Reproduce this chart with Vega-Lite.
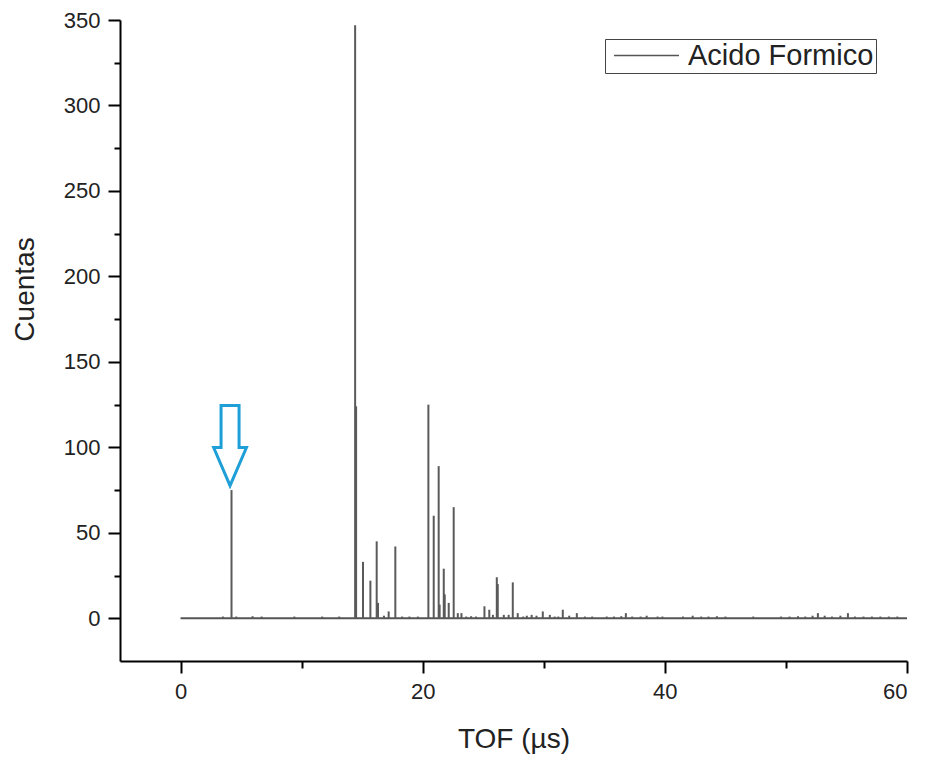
{
  "$schema": "https://vega.github.io/schema/vega-lite/v6.json",
  "width": 787,
  "height": 641,
  "autosize": "none",
  "padding": {"left": 120, "top": 20, "right": 20, "bottom": 96},
  "background": "white",
  "config": {
    "view": {"stroke": null},
    "font": "Liberation Sans",
    "axis": {
      "domainColor": "#000",
      "domainWidth": 2,
      "tickColor": "#000",
      "tickWidth": 2,
      "grid": false,
      "labelFont": "Liberation Sans",
      "labelFontSize": 22,
      "labelColor": "#222",
      "titleFont": "Liberation Sans",
      "titleFontSize": 28,
      "titleFontWeight": "normal",
      "titleColor": "#222"
    }
  },
  "datasets": {
    "peaks": [
      {"tof": 3.5, "counts": 1}, {"tof": 4.21, "counts": 75}, {"tof": 4.6, "counts": 1}, {"tof": 5.95, "counts": 1.2}, {"tof": 6.7, "counts": 1},
      {"tof": 9.4, "counts": 1}, {"tof": 11.7, "counts": 1}, {"tof": 13.1, "counts": 1},
      {"tof": 14.42, "counts": 347}, {"tof": 14.5, "counts": 124}, {"tof": 15.07, "counts": 33}, {"tof": 15.68, "counts": 22},
      {"tof": 16.2, "counts": 45}, {"tof": 16.31, "counts": 9}, {"tof": 16.8, "counts": 1.5}, {"tof": 17.19, "counts": 4}, {"tof": 17.74, "counts": 42},
      {"tof": 18.3, "counts": 1}, {"tof": 18.9, "counts": 1}, {"tof": 19.6, "counts": 1},
      {"tof": 20.47, "counts": 125}, {"tof": 20.91, "counts": 60}, {"tof": 21.32, "counts": 89}, {"tof": 21.4, "counts": 8},
      {"tof": 21.74, "counts": 29}, {"tof": 21.82, "counts": 14}, {"tof": 22.15, "counts": 9}, {"tof": 22.56, "counts": 65},
      {"tof": 22.9, "counts": 3}, {"tof": 23.2, "counts": 3}, {"tof": 23.6, "counts": 1}, {"tof": 24.0, "counts": 1.2}, {"tof": 24.4, "counts": 1},
      {"tof": 25.1, "counts": 7}, {"tof": 25.5, "counts": 5}, {"tof": 25.8, "counts": 2}, {"tof": 26.12, "counts": 24}, {"tof": 26.2, "counts": 20},
      {"tof": 26.7, "counts": 2}, {"tof": 27.1, "counts": 2}, {"tof": 27.44, "counts": 21}, {"tof": 27.85, "counts": 3},
      {"tof": 28.3, "counts": 1}, {"tof": 28.6, "counts": 1.5}, {"tof": 29.0, "counts": 2}, {"tof": 29.4, "counts": 1.5},
      {"tof": 29.92, "counts": 4}, {"tof": 30.5, "counts": 2}, {"tof": 30.9, "counts": 1}, {"tof": 31.2, "counts": 1},
      {"tof": 31.57, "counts": 5}, {"tof": 32.1, "counts": 1.5}, {"tof": 32.73, "counts": 3}, {"tof": 33.4, "counts": 1},
      {"tof": 34.0, "counts": 1}, {"tof": 35.2, "counts": 1}, {"tof": 35.8, "counts": 1}, {"tof": 36.4, "counts": 1.2},
      {"tof": 36.78, "counts": 3}, {"tof": 37.3, "counts": 1}, {"tof": 38.0, "counts": 1}, {"tof": 38.5, "counts": 1.5},
      {"tof": 39.4, "counts": 1}, {"tof": 39.8, "counts": 1}, {"tof": 41.5, "counts": 1}, {"tof": 42.3, "counts": 1.5},
      {"tof": 43.0, "counts": 1}, {"tof": 43.6, "counts": 1}, {"tof": 44.3, "counts": 1.2}, {"tof": 45.0, "counts": 1},
      {"tof": 47.3, "counts": 1}, {"tof": 49.6, "counts": 1}, {"tof": 50.3, "counts": 1}, {"tof": 51.0, "counts": 1.2},
      {"tof": 51.6, "counts": 1}, {"tof": 52.2, "counts": 1.5}, {"tof": 52.64, "counts": 3}, {"tof": 53.2, "counts": 1.5},
      {"tof": 53.8, "counts": 1}, {"tof": 54.5, "counts": 1.5}, {"tof": 55.12, "counts": 3}, {"tof": 55.7, "counts": 1},
      {"tof": 56.4, "counts": 1}, {"tof": 57.1, "counts": 1}, {"tof": 57.8, "counts": 1}, {"tof": 58.5, "counts": 1}, {"tof": 59.2, "counts": 1}
    ],
    "baseline": [
      {"tof": 0, "counts": 0, "series": "Acido Formico"},
      {"tof": 60, "counts": 0, "series": "Acido Formico"}
    ],
    "arrow": [
      {"tof": 4.09, "counts": 101}
    ]
  },
  "layer": [
    {
      "data": {"name": "baseline"},
      "mark": {"type": "line", "strokeWidth": 2.2},
      "encoding": {
        "x": {
          "field": "tof", "type": "quantitative",
          "scale": {"domain": [-5, 60], "nice": false, "zero": false},
          "axis": {
            "title": "TOF (µs)",
            "values": [0, 10, 20, 30, 40, 50, 60],
            "tickSize": {"condition": {"test": "datum.value % 20 === 0", "value": 12}, "value": 7},
            "labelExpr": "datum.value % 20 === 0 ? datum.label : ''",
            "labelPadding": 8,
            "titleBaseline": "alphabetic",
            "titleY": 86,
            "titleX": 393.5,
            "titleAlign": "center"
          }
        },
        "y": {
          "field": "counts", "type": "quantitative",
          "scale": {"domain": [-25, 350], "nice": false, "zero": false},
          "axis": {
            "title": "Cuentas",
            "values": [0, 25, 50, 75, 100, 125, 150, 175, 200, 225, 250, 275, 300, 325, 350],
            "tickSize": {"condition": {"test": "datum.value % 50 === 0", "value": 12}, "value": 6},
            "labelExpr": "datum.value % 50 === 0 ? datum.label : ''",
            "labelPadding": 8,
            "labelBaseline": "middle",
            "titleAngle": 270,
            "titleBaseline": "alphabetic",
            "titleAlign": "center",
            "titleX": -87,
            "titleY": 269
          }
        },
        "color": {
          "field": "series", "type": "nominal",
          "scale": {"range": ["#555555"]},
          "legend": {
            "title": null,
            "orient": "none",
            "legendX": 485,
            "legendY": 19,
            "symbolType": "M-3,0 L3,0",
            "symbolSize": 469,
            "symbolStrokeWidth": 1.5,
            "symbolFillColor": "transparent",
            "labelFont": "Liberation Sans",
            "labelFontSize": 29,
            "labelColor": "#222",
            "labelLimit": 400,
            "labelOffset": 27,
            "strokeColor": "#444",
            "padding": 2,
            "symbolOffset": 25
          }
        }
      }
    },
    {
      "data": {"name": "peaks"},
      "mark": {"type": "rule", "color": "#5a5a5a", "strokeWidth": 2},
      "encoding": {
        "x": {"field": "tof", "type": "quantitative"},
        "y": {"field": "counts", "type": "quantitative"},
        "y2": {"datum": 0}
      }
    },
    {
      "data": {"name": "arrow"},
      "mark": {
        "type": "point",
        "shape": "M-0.225,-1 L0.225,-1 L0.225,0.05 L0.41,0.05 L0,1 L-0.41,0.05 L-0.225,0.05 Z",
        "size": 6400,
        "filled": true,
        "fill": "white",
        "stroke": "#1E9FD8",
        "strokeWidth": 3,
        "opacity": 1
      },
      "encoding": {
        "x": {"field": "tof", "type": "quantitative"},
        "y": {"field": "counts", "type": "quantitative"}
      }
    }
  ]
}
